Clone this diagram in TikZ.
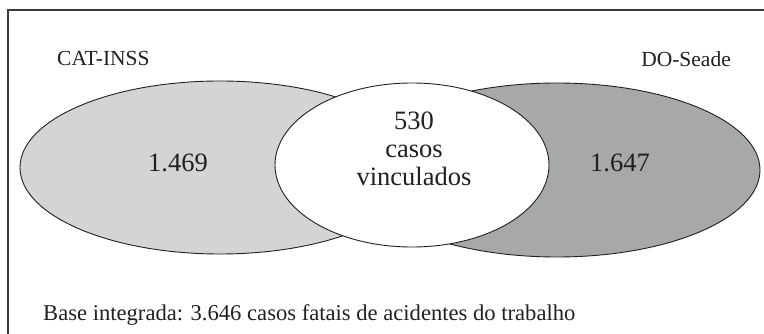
\documentclass[tikz,border=0pt]{standalone}
\usepackage{fontspec}
\setmainfont{Liberation Serif}
\usetikzlibrary{shapes.geometric}
\definecolor{inkc}{HTML}{231F20}
\definecolor{lightfill}{HTML}{D4D4D5}
\definecolor{darkfill}{HTML}{A7A8AA}
\definecolor{framec}{HTML}{3A3A3A}
\tikzset{
  setellipse/.style={ellipse, draw=inkc, line width=0.9pt, inner sep=0pt},
  numlabel/.style={text=inkc, inner sep=0pt, font=\fontsize{26.5}{28.5}\selectfont},
  srclabel/.style={text=inkc, inner sep=0pt, font=\fontsize{21.5}{24}\selectfont},
  notelabel/.style={text=inkc, inner sep=0pt, font=\fontsize{22.6}{26}\selectfont}
}
\begin{document}
\begin{tikzpicture}[x=1pt, y=-1pt]
\useasboundingbox (0,0) rectangle (764,334);
% frame (top and left sides only visible)
\draw[framec, line width=2pt] (8,334) -- (8,10) -- (764,10);
% sets
\node[setellipse, fill=lightfill, minimum width=400pt, minimum height=173pt] (cat) at (220,167.5) {};
\node[setellipse, fill=darkfill, minimum width=406pt, minimum height=174pt] (do) at (557,170) {};
\node[setellipse, fill=white, minimum width=274pt, minimum height=164pt] (both) at (412,165) {};
% labels
\node[numlabel, anchor=base] (n1) at (178,172) {1.469};
\node[numlabel, anchor=base] (n2) at (620,172) {1.647};
\node[numlabel, align=center, anchor=base] (n3) at (414,186) {530\\casos\\vinculados};
\node[srclabel, anchor=base west] (l1) at (57,66) {CAT-INSS};
\node[srclabel, anchor=base east] (l2) at (731,67) {DO-Seade};
\node[notelabel, anchor=base west] (note) at (43,320) {Base integrada: 3.646 casos fatais de acidentes do trabalho};
\end{tikzpicture}
\end{document}
